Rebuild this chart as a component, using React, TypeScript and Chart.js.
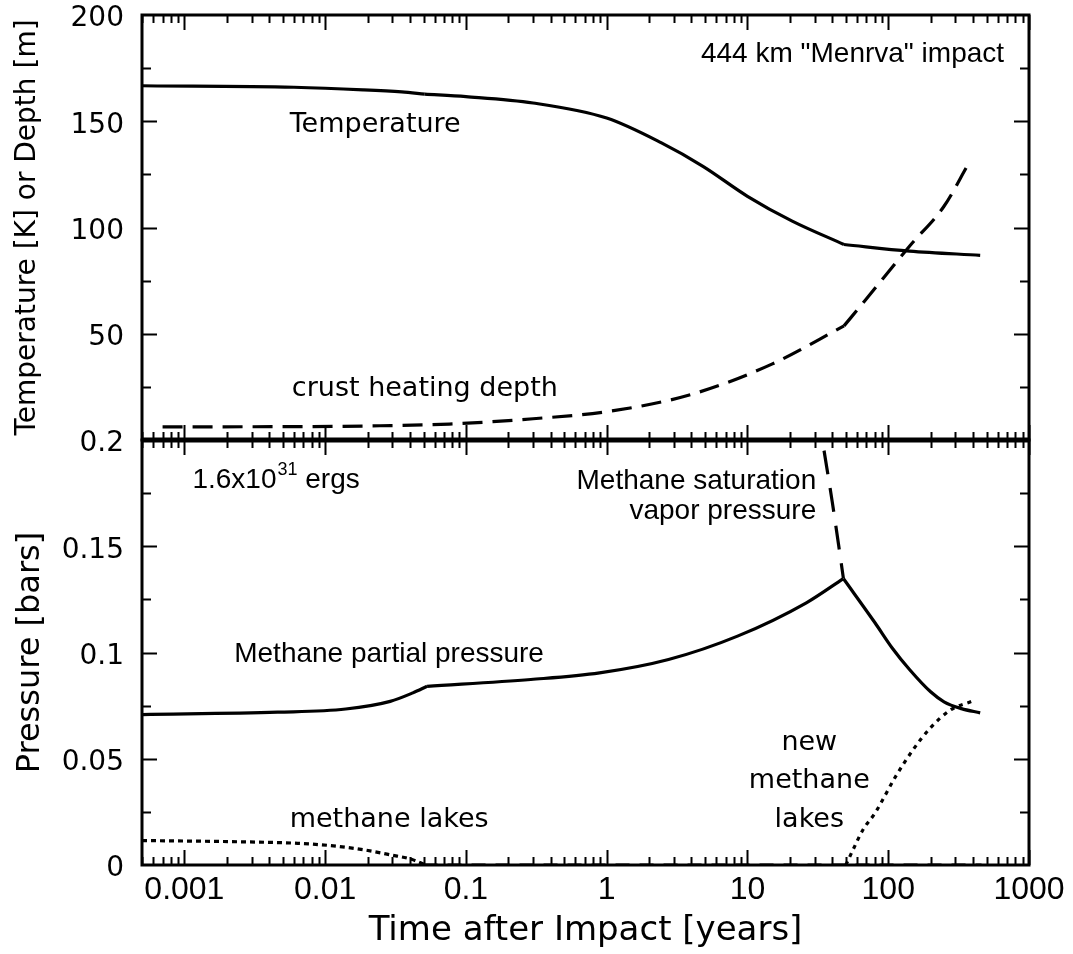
import React, { useEffect, useRef } from "react";
import { Chart, registerables } from "chart.js";

Chart.register(...registerables);

const SANS = '"Liberation Sans", Arial, Helvetica, sans-serif';
const LUCIDA = '"DejaVu Sans", "Lucida Grande", sans-serif';

// x axis (time after impact, years)
const xTickValues = [0.001, 0.01, 0.1, 1, 10, 100, 1000];
const xTickLabels = ["0.001", "0.01", "0.1", "1", "10", "100", "1000"];

// top panel axis
const tempTickValues = [0, 50, 100, 150, 200];
const tempTickLabels = ["", "50", "100", "150", "200"];

// bottom panel axis
const pressTickValues = [0, 0.05, 0.1, 0.15, 0.2];
const pressTickLabels = ["0", "0.05", "0.1", "0.15", "0.2"];

// Temperature [K]
const tempTime = [0.0005, 0.006, 0.0186, 0.035, 0.051, 0.1, 0.3, 1, 2.45, 4.83, 10, 20.8, 48.5, 141.6, 450];
const tempK = [166.7, 166.0, 164.8, 163.8, 162.8, 161.6, 158.6, 151.5, 139.8, 128.8, 114.7, 103, 92, 88.9, 86.9];
const tempKinks = [4, 12];

// crust heating depth [m]
const depthTime = [0.0007, 0.0068, 0.0245, 0.076, 0.3, 1.12, 4.07, 14.9, 48.5, 68, 141.6, 249, 369];
const depthM = [6.2, 6.3, 6.7, 7.5, 10, 13.8, 21.6, 35.7, 53.7, 65.4, 91.2, 110, 129.6];
const depthKinks = [8];

// methane partial pressure [bars]
const ppTime = [0.0005, 0.0046, 0.014, 0.029, 0.042, 0.053, 0.289, 0.89, 2.75, 8.5, 26.2, 48, 80.5, 107, 141.6, 200, 249, 331, 450];
const ppBar = [0.0708, 0.0719, 0.0734, 0.077, 0.081, 0.0841, 0.0873, 0.0904, 0.0967, 0.1077, 0.1234, 0.1348, 0.114, 0.102, 0.092, 0.0815, 0.0768, 0.0736, 0.0716];
const ppKinks = [5, 11];

// methane saturation vapor pressure [bars]
const satTime = [35, 40, 45, 48];
const satBar = [0.195, 0.171, 0.148, 0.135];

// methane lakes [bars]
const lakeTime = [0.0005, 0.0021, 0.0064, 0.011, 0.019, 0.0295, 0.041, 0.052];
const lakeBar = [0.0115, 0.011, 0.0102, 0.0091, 0.0071, 0.0047, 0.0027, 0.0];

// lakes absent (zero level)
const zeroTime = [0.05, 460];
const zeroBar = [0, 0];

// new methane lakes [bars]
const newLakeTime = [50, 57, 66, 80.5, 113, 150, 199, 279, 391];
const newLakeBar = [0, 0.008, 0.0165, 0.0244, 0.0417, 0.0542, 0.0645, 0.0731, 0.077];

const pts = (xs: number[], ys: number[]) => xs.map((x, i) => ({ x, y: ys[i] }));
// split a series at its kinks so that each smooth piece is interpolated on its own
const pieces = (xs: number[], ys: number[], kinks: number[]) => {
  const cuts = [0, ...kinks, xs.length - 1];
  const out: { x: number; y: number }[][] = [];
  for (let i = 0; i < cuts.length - 1; i++) {
    out.push(pts(xs.slice(cuts[i], cuts[i + 1] + 1), ys.slice(cuts[i], cuts[i + 1] + 1)));
  }
  return out;
};

type Note = { lines: string[]; t: number; v: number; axis: string; align: CanvasTextAlign; font: string; gap?: number };
const notes: Note[] = [
  { lines: ["Temperature"], t: 0.0056, v: 145, axis: "yT", align: "left", font: `27px ${LUCIDA}` },
  { lines: ["crust heating depth"], t: 0.0058, v: 20.7, axis: "yT", align: "left", font: `27px ${LUCIDA}` },
  { lines: ['444 km "Menrva" impact'], t: 665, v: 178, axis: "yT", align: "right", font: `28px ${SANS}` },
  { lines: ["Methane partial pressure"], t: 0.00226, v: 0.0953, axis: "yP", align: "left", font: `28px ${SANS}` },
  { lines: ["methane lakes"], t: 0.0056, v: 0.0179, axis: "yP", align: "left", font: `27px ${LUCIDA}` },
  { lines: ["Methane saturation", "vapor pressure"], t: 30.8, v: 0.1769, axis: "yP", align: "right", font: `28px ${SANS}`, gap: 30 },
  { lines: ["new", "methane", "lakes"], t: 27.5, v: 0.0542, axis: "yP", align: "center", font: `27px ${LUCIDA}`, gap: 38.5 },
];

const framePlugin = {
  id: "frame",
  afterDatasetsDraw(chart: any) {
    const ctx: CanvasRenderingContext2D = chart.ctx;
    const xs = chart.scales.x;
    const ca = chart.chartArea;
    const panels = [
      { s: chart.scales.yT, step: 25 },
      { s: chart.scales.yP, step: 0.025 },
    ];
    ctx.save();
    ctx.strokeStyle = "#000";
    ctx.lineCap = "butt";
    ctx.lineWidth = 2;
    for (const p of panels) {
      const top = p.s.top;
      const bot = p.s.bottom;
      for (let d = -4; d <= 3; d++) {
        for (let m = 1; m <= 9; m++) {
          const v = m * Math.pow(10, d);
          if (v < xs.min * 0.999 || v > xs.max * 1.001) continue;
          const px = Math.round(xs.getPixelForValue(v)) + 0.5;
          const len = m === 1 ? 15 : 8;
          ctx.beginPath();
          ctx.moveTo(px, top);
          ctx.lineTo(px, top + len);
          ctx.moveTo(px, bot);
          ctx.lineTo(px, bot - len);
          ctx.stroke();
        }
      }
      for (let k = 1; k < 8; k++) {
        const v = k * p.step;
        const py = Math.round(p.s.getPixelForValue(v)) + 0.5;
        const len = k % 2 === 0 ? 15 : 9;
        ctx.beginPath();
        ctx.moveTo(ca.left, py);
        ctx.lineTo(ca.left + len, py);
        ctx.moveTo(ca.right, py);
        ctx.lineTo(ca.right - len, py);
        ctx.stroke();
      }
    }
    ctx.lineWidth = 3;
    for (const p of panels) {
      ctx.strokeRect(ca.left, p.s.top, ca.right - ca.left, p.s.bottom - p.s.top);
    }
    ctx.lineWidth = 5;
    const div = chart.scales.yP.top;
    ctx.beginPath();
    ctx.moveTo(ca.left, div);
    ctx.lineTo(ca.right, div);
    ctx.stroke();

    ctx.fillStyle = "#000";
    ctx.textBaseline = "alphabetic";
    for (const n of notes) {
      const sc = chart.scales[n.axis];
      const x = xs.getPixelForValue(n.t);
      const y = sc.getPixelForValue(n.v);
      ctx.font = n.font;
      ctx.textAlign = n.align;
      n.lines.forEach((ln, i) => ctx.fillText(ln, x, y + i * (n.gap || 0)));
    }
    {
      const x0 = xs.getPixelForValue(0.00114);
      const y0 = chart.scales.yP.getPixelForValue(0.1774);
      ctx.textAlign = "left";
      ctx.font = `28px ${SANS}`;
      const a = "1.6x10";
      ctx.fillText(a, x0, y0);
      let x = x0 + ctx.measureText(a).width + 1;
      ctx.font = `18px ${SANS}`;
      ctx.fillText("31", x, y0 - 13);
      x += ctx.measureText("31").width;
      ctx.font = `28px ${SANS}`;
      ctx.fillText(" ergs", x, y0);
    }
    ctx.restore();
  },
};

export default function App() {
  const ref = useRef<HTMLCanvasElement>(null);
  useEffect(() => {
    const canvas = ref.current!;
    const line = (data: any[], yAxisID: string, dash: number[], label: string) => ({
      label,
      data,
      yAxisID,
      xAxisID: "x",
      borderColor: "#000",
      backgroundColor: "#000",
      borderWidth: 3.2,
      borderDash: dash,
      pointRadius: 0,
      fill: false,
      cubicInterpolationMode: "monotone" as const,
      borderCapStyle: "butt" as const,
    });
    const datasets: any[] = [
      ...pieces(tempTime, tempK, tempKinks).map((d) => line(d, "yT", [], "Temperature")),
      ...pieces(depthTime, depthM, depthKinks).map((d) => line(d, "yT", [20, 10], "crust heating depth")),
      ...pieces(ppTime, ppBar, ppKinks).map((d) => line(d, "yP", [], "Methane partial pressure")),
      line(pts(satTime, satBar), "yP", [24, 14], "Methane saturation vapor pressure"),
      line(pts(lakeTime, lakeBar), "yP", [5, 4], "methane lakes"),
      line(pts(zeroTime, zeroBar), "yP", [14, 10], "no lakes"),
      line(pts(newLakeTime, newLakeBar), "yP", [4, 5], "new methane lakes"),
    ];
    const chart = new Chart(canvas, {
      type: "line",
      data: { datasets },
      options: {
        animation: false,
        responsive: false,
        devicePixelRatio: 1,
        layout: { padding: { top: 15, right: 44, left: 0, bottom: 0 } },
        plugins: { legend: { display: false }, tooltip: { enabled: false } },
        scales: {
          x: {
            type: "logarithmic",
            position: "bottom",
            min: 0.0005,
            max: 1000,
            grid: { display: false, drawTicks: false },
            border: { display: false },
            afterBuildTicks: (s: any) => {
              s.ticks = xTickValues.map((v) => ({ value: v }));
            },
            afterFit: (s: any) => {
              s.height = 89;
              s.paddingLeft = 0;
              s.paddingRight = 0;
            },
            ticks: {
              font: { family: SANS, size: 32 },
              color: "#000",
              padding: 6,
              maxRotation: 0,
              autoSkip: false,
              callback: (v: any) => {
                const i = xTickValues.indexOf(Number(v));
                return i >= 0 ? xTickLabels[i] : "";
              },
            },
            title: {
              display: true,
              text: "Time after Impact [years]",
              font: { family: LUCIDA, size: 34, lineHeight: 1.2 },
              color: "#000",
              padding: { top: 0, bottom: 2 },
            },
          },
          yP: {
            type: "linear",
            position: "left",
            stack: "panels",
            stackWeight: 1,
            min: 0,
            max: 0.2,
            grid: { display: false, drawTicks: false },
            border: { display: false },
            afterBuildTicks: (s: any) => {
              s.ticks = pressTickValues.map((v) => ({ value: v }));
            },
            afterFit: (s: any) => {
              s.width = 142;
              s.paddingTop = 0;
              s.paddingBottom = 0;
            },
            ticks: {
              font: { family: LUCIDA, size: 28 },
              color: "#000",
              padding: 18,
              labelOffset: 4,
              callback: (_v: any, i: number) => pressTickLabels[i],
            },
            title: {
              display: true,
              text: "Pressure [bars]",
              font: { family: LUCIDA, size: 32, lineHeight: 1.2 },
              color: "#000",
              padding: { top: 11, bottom: 0 },
            },
          },
          yT: {
            type: "linear",
            position: "left",
            stack: "panels",
            stackWeight: 1,
            min: 0,
            max: 200,
            grid: { display: false, drawTicks: false },
            border: { display: false },
            afterBuildTicks: (s: any) => {
              s.ticks = tempTickValues.map((v) => ({ value: v }));
            },
            afterFit: (s: any) => {
              s.width = 142;
              s.paddingTop = 0;
              s.paddingBottom = 0;
            },
            ticks: {
              font: { family: LUCIDA, size: 28 },
              color: "#000",
              padding: 18,
              labelOffset: 4,
              callback: (_v: any, i: number) => tempTickLabels[i],
            },
            title: {
              display: true,
              text: "Temperature [K] or Depth [m]",
              font: { family: LUCIDA, size: 28, lineHeight: 1.2 },
              color: "#000",
              padding: { top: 11, bottom: 0 },
            },
          },
        },
      } as any,
      plugins: [framePlugin],
    });
    return () => chart.destroy();
  }, []);
  return (
    <div style={{ position: "absolute", left: 0, top: 0, width: 1073, height: 954, background: "#fff" }}>
      <canvas ref={ref} width={1073} height={954} style={{ display: "block" }} />
    </div>
  );
}
